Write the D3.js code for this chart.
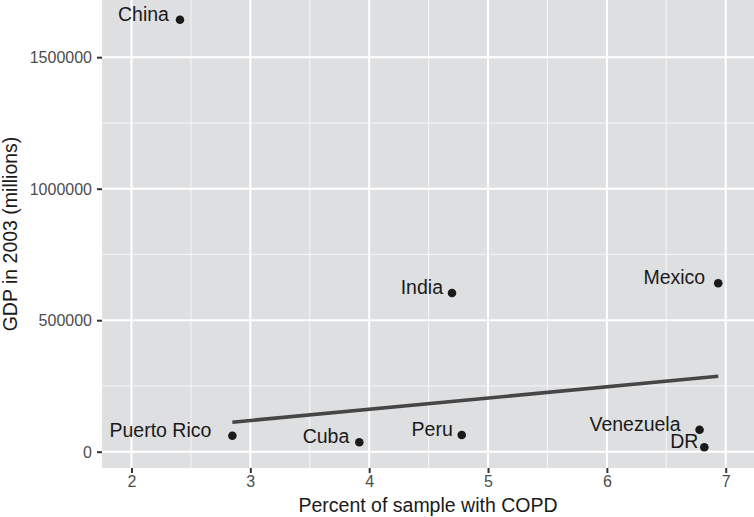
<!DOCTYPE html>
<html>
<head>
<meta charset="utf-8">
<script src="https://cdn.jsdelivr.net/npm/d3@7"></script>
<style>
  html, body { margin: 0; padding: 0; background: #fff; }
  svg { display: block; }
  text { font-family: "Liberation Sans", Arial, sans-serif; }
</style>
</head>
<body>
<svg id="chart" width="754" height="517"></svg>
<script>
// ---- data ----
const countries = ["China", "India", "Mexico", "Puerto Rico", "Cuba", "Peru", "Venezuela", "DR"];
const copd = [2.408, 4.697, 6.937, 2.849, 3.917, 4.779, 6.78, 6.82];
const gdp = [1642600, 603400, 640300, 60800, 35700, 63500, 83650, 16700];
const xTicks = [2, 3, 4, 5, 6, 7];
const yTicks = [0, 500000, 1000000, 1500000];
const xMinor = [2.5, 3.5, 4.5, 5.5, 6.5];
const yMinor = [250000, 750000, 1250000];
// label gap (px) to the left of each point
const labelGap = [11, 9, 13, 21, 10, 9, 19, 6];

const W = 754, H = 517;
const margin = { left: 102, right: 0, top: 0, bottom: 49 };
const pw = W - margin.left - margin.right;
const ph = H - margin.top - margin.bottom;

const svg = d3.select("#chart");
const g = svg.append("g").attr("transform", `translate(${margin.left},${margin.top})`);

const x = d3.scaleLinear().domain([1.752, 7.238]).range([0, pw]);
const y = d3.scaleLinear().domain([-62000, 1717500]).range([ph, 0]);

// panel
g.append("rect").attr("width", pw).attr("height", ph).attr("fill", "#dedfe1");

// minor grid
g.selectAll(".xminor").data(xMinor).join("line")
  .attr("x1", d => x(d)).attr("x2", d => x(d)).attr("y1", 0).attr("y2", ph)
  .attr("stroke", "#f6f6f7").attr("stroke-width", 1);
g.selectAll(".yminor").data(yMinor).join("line")
  .attr("y1", d => y(d)).attr("y2", d => y(d)).attr("x1", 0).attr("x2", pw)
  .attr("stroke", "#f6f6f7").attr("stroke-width", 1);
// major grid
g.selectAll(".xmajor").data(xTicks).join("line")
  .attr("x1", d => x(d)).attr("x2", d => x(d)).attr("y1", 0).attr("y2", ph)
  .attr("stroke", "#fff").attr("stroke-width", 2);
g.selectAll(".ymajor").data(yTicks).join("line")
  .attr("y1", d => y(d)).attr("y2", d => y(d)).attr("x1", 0).attr("x2", pw)
  .attr("stroke", "#fff").attr("stroke-width", 2);

// axes
const xAxis = g.append("g").attr("transform", `translate(0,${ph})`)
  .call(d3.axisBottom(x).tickValues(xTicks).tickSize(5).tickPadding(3).tickFormat(d3.format("d")));
const yAxis = g.append("g")
  .call(d3.axisLeft(y).tickValues(yTicks).tickSize(5).tickPadding(5).tickFormat(d3.format("d")));
[xAxis, yAxis].forEach(a => {
  a.select(".domain").remove();
  a.selectAll(".tick line").attr("stroke", "#333").attr("stroke-width", 2);
  a.selectAll(".tick text").attr("fill", "#4d4d4d").style("font-size", "16px")
    .style("font-family", "'Liberation Sans', Arial, sans-serif");
});
yAxis.selectAll(".tick text").attr("dy", "0.36em");

// regression line (excluding China)
const fitIdx = countries.map((c, i) => i).filter(i => countries[i] !== "China");
const fx = fitIdx.map(i => copd[i]), fy = fitIdx.map(i => gdp[i]);
const mx = d3.mean(fx), my = d3.mean(fy);
const slope = d3.sum(fx.map((v, k) => (v - mx) * (fy[k] - my))) / d3.sum(fx.map(v => (v - mx) ** 2));
const intercept = my - slope * mx;
const [xa, xb] = d3.extent(fx);
g.append("path")
  .datum([xa, xb].map(v => [v, intercept + slope * v]))
  .attr("d", d3.line().x(d => x(d[0])).y(d => y(d[1])))
  .attr("stroke", "#464646").attr("stroke-width", 3.6).attr("fill", "none");

// points
const pts = countries.map((c, i) => ({ c, x: copd[i], y: gdp[i], gap: labelGap[i] }));
g.selectAll(".pt").data(pts).join("circle")
  .attr("cx", d => x(d.x)).attr("cy", d => y(d.y)).attr("r", 4.3).attr("fill", "#1a1a1a");

// labels
g.selectAll(".lab").data(pts).join("text")
  .attr("x", d => x(d.x) - d.gap).attr("y", d => y(d.y) + 1)
  .attr("text-anchor", "end").attr("fill", "#1a1a1a").style("font-size", "19.5px")
  .text(d => d.c);

// axis titles
svg.append("text").attr("x", margin.left + pw / 2).attr("y", 512)
  .attr("text-anchor", "middle").attr("fill", "#1a1a1a").style("font-size", "19.5px")
  .text("Percent of sample with COPD");
svg.append("text").attr("transform", `translate(17,${margin.top + ph / 2}) rotate(-90)`)
  .attr("text-anchor", "middle").attr("fill", "#1a1a1a").style("font-size", "19.5px")
  .text("GDP in 2003 (millions)");
</script>
</body>
</html>
